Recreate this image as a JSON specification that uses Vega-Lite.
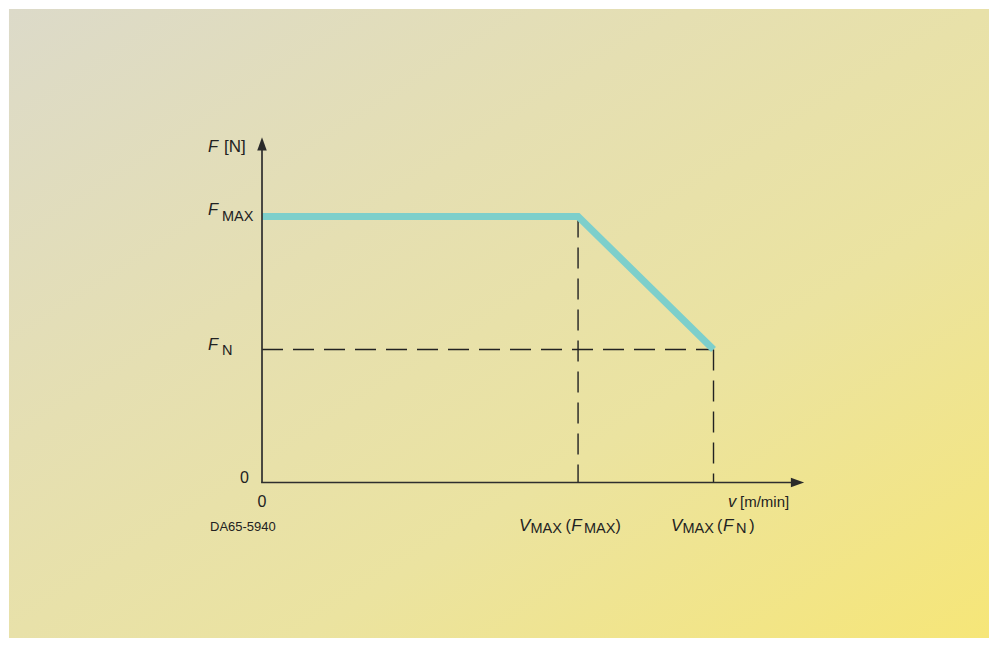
{
  "$schema": "https://vega.github.io/schema/vega-lite/v6.json",
  "width": 998,
  "height": 647,
  "autosize": {"type": "fit", "contains": "padding"},
  "padding": 0,
  "background": "#ffffff",
  "config": {"view": {"stroke": null}},
  "datasets": {
    "segments": [
      {"kind": "axis", "x": -0.02, "y": 0, "x2": 11.9, "y2": 0},
      {"kind": "axis", "x": 0, "y": 0, "x2": 0, "y2": 12.75},
      {"kind": "guide", "x": 0, "y": 5, "x2": 10, "y2": 5},
      {"kind": "guide", "x": 7, "y": 10, "x2": 7, "y2": 0},
      {"kind": "guide", "x": 10, "y": 5, "x2": 10, "y2": 0}
    ],
    "curve": [
      {"order": 1, "v": 0, "F": 10},
      {"order": 2, "v": 7, "F": 10},
      {"order": 3, "v": 10, "F": 5}
    ],
    "arrows": [
      {"dir": "up", "v": 0, "F": 12.73},
      {"dir": "right", "v": 11.86, "F": 0}
    ],
    "labels": [
      {"role": "varL", "t": "F", "x": -1.196, "y": 12.425},
      {"role": "unitL", "t": "[N]", "x": -0.842, "y": 12.425},
      {"role": "varL", "t": "F", "x": -1.196, "y": 10.056},
      {"role": "sub", "t": "MAX", "x": -0.886, "y": 9.831},
      {"role": "varL", "t": "F", "x": -1.196, "y": 4.981},
      {"role": "sub", "t": "N", "x": -0.886, "y": 4.812},
      {"role": "num", "t": "0", "x": -0.487, "y": 0},
      {"role": "num", "t": "0", "x": -0.1, "y": -0.91},
      {"role": "varL", "t": "v", "x": 10.321, "y": -0.91},
      {"role": "unit", "t": "[m/min]", "x": 10.587, "y": -0.91},
      {"role": "varB", "t": "V", "x": 5.692, "y": -1.823},
      {"role": "sub", "t": "MAX", "x": 5.947, "y": -1.91},
      {"role": "num", "t": "(", "x": 6.72, "y": -1.823},
      {"role": "varB", "t": "F", "x": 6.85, "y": -1.823},
      {"role": "sub", "t": "MAX", "x": 7.13, "y": -1.91},
      {"role": "num", "t": ")", "x": 7.83, "y": -1.823},
      {"role": "varB", "t": "V", "x": 9.059, "y": -1.823},
      {"role": "sub", "t": "MAX", "x": 9.313, "y": -1.91},
      {"role": "num", "t": "(", "x": 10.078, "y": -1.823},
      {"role": "varB", "t": "F", "x": 10.21, "y": -1.823},
      {"role": "sub", "t": "N", "x": 10.498, "y": -1.91},
      {"role": "num", "t": ")", "x": 10.79, "y": -1.823},
      {"role": "code", "t": "DA65-5940", "x": -1.152, "y": -1.823}
    ]
  },
  "layer": [
    {
      "data": {"values": [{}]},
      "mark": {
        "type": "rect",
        "color": {
          "gradient": "linear",
          "x1": 0, "y1": 0, "x2": 1, "y2": 1,
          "stops": [
            {"offset": 0, "color": "#dcdac9"},
            {"offset": 0.35, "color": "#e5dfb2"},
            {"offset": 0.65, "color": "#ebe3a0"},
            {"offset": 1, "color": "#f6e678"}
          ]
        }
      },
      "encoding": {
        "x": {"datum": -5.604, "type": "quantitative", "axis": null, "scale": {"domain": [-5.803, 16.301], "nice": false, "zero": false}},
        "x2": {"datum": 16.102},
        "y": {"datum": 17.801, "type": "quantitative", "axis": null, "scale": {"domain": [-6.184, 18.139], "nice": false, "zero": false}},
        "y2": {"datum": -5.846}
      }
    },
    {
      "data": {"name": "segments"},
      "transform": [{"filter": "datum.kind === 'guide'"}],
      "mark": {"type": "rule", "color": "#222222", "strokeWidth": 1.4, "strokeDash": [21, 10]},
      "encoding": {
        "x": {"field": "x", "type": "quantitative", "axis": null, "scale": {"domain": [-5.803, 16.301], "nice": false, "zero": false}},
        "x2": {"field": "x2"},
        "y": {"field": "y", "type": "quantitative", "axis": null, "scale": {"domain": [-6.184, 18.139], "nice": false, "zero": false}},
        "y2": {"field": "y2"}
      }
    },
    {
      "data": {"name": "curve"},
      "mark": {"type": "line", "color": "#7dcfcb", "strokeWidth": 7, "strokeCap": "butt", "strokeJoin": "miter"},
      "encoding": {
        "x": {"field": "v", "type": "quantitative", "axis": null, "scale": {"domain": [-5.803, 16.301], "nice": false, "zero": false}},
        "y": {"field": "F", "type": "quantitative", "axis": null, "scale": {"domain": [-6.184, 18.139], "nice": false, "zero": false}},
        "order": {"field": "order"}
      }
    },
    {
      "data": {"name": "segments"},
      "transform": [{"filter": "datum.kind === 'axis'"}],
      "mark": {"type": "rule", "color": "#2e2e2e", "strokeWidth": 1.7},
      "encoding": {
        "x": {"field": "x", "type": "quantitative", "axis": null, "scale": {"domain": [-5.803, 16.301], "nice": false, "zero": false}},
        "x2": {"field": "x2"},
        "y": {"field": "y", "type": "quantitative", "axis": null, "scale": {"domain": [-6.184, 18.139], "nice": false, "zero": false}},
        "y2": {"field": "y2"}
      }
    },
    {
      "data": {"name": "arrows"},
      "transform": [{"filter": "datum.dir === 'up'"}],
      "mark": {"type": "point", "shape": "M0,-1L0.72,1L-0.72,1Z", "size": 176, "filled": true, "color": "#2a2a2a", "opacity": 1, "angle": 0},
      "encoding": {
        "x": {"field": "v", "type": "quantitative", "axis": null, "scale": {"domain": [-5.803, 16.301], "nice": false, "zero": false}},
        "y": {"field": "F", "type": "quantitative", "axis": null, "scale": {"domain": [-6.184, 18.139], "nice": false, "zero": false}}
      }
    },
    {
      "data": {"name": "arrows"},
      "transform": [{"filter": "datum.dir === 'right'"}],
      "mark": {"type": "point", "shape": "M0,-1L0.72,1L-0.72,1Z", "size": 176, "filled": true, "color": "#2a2a2a", "opacity": 1, "angle": 90},
      "encoding": {
        "x": {"field": "v", "type": "quantitative", "axis": null, "scale": {"domain": [-5.803, 16.301], "nice": false, "zero": false}},
        "y": {"field": "F", "type": "quantitative", "axis": null, "scale": {"domain": [-6.184, 18.139], "nice": false, "zero": false}}
      }
    },
    {
      "data": {"name": "labels"},
      "transform": [{"filter": "datum.role === 'varL'"}],
      "mark": {"type": "text", "align": "left", "baseline": "alphabetic", "font": "Liberation Sans", "fontStyle": "italic", "fontSize": 16.5, "color": "#222222"},
      "encoding": {
        "x": {"field": "x", "type": "quantitative", "axis": null, "scale": {"domain": [-5.803, 16.301], "nice": false, "zero": false}},
        "y": {"field": "y", "type": "quantitative", "axis": null, "scale": {"domain": [-6.184, 18.139], "nice": false, "zero": false}},
        "text": {"field": "t"}
      }
    },
    {
      "data": {"name": "labels"},
      "transform": [{"filter": "datum.role === 'varB'"}],
      "mark": {"type": "text", "align": "left", "baseline": "alphabetic", "font": "Liberation Sans", "fontStyle": "italic", "fontSize": 17, "color": "#222222"},
      "encoding": {
        "x": {"field": "x", "type": "quantitative", "axis": null, "scale": {"domain": [-5.803, 16.301], "nice": false, "zero": false}},
        "y": {"field": "y", "type": "quantitative", "axis": null, "scale": {"domain": [-6.184, 18.139], "nice": false, "zero": false}},
        "text": {"field": "t"}
      }
    },
    {
      "data": {"name": "labels"},
      "transform": [{"filter": "datum.role === 'sub'"}],
      "mark": {"type": "text", "align": "left", "baseline": "alphabetic", "font": "Liberation Sans", "fontSize": 14.5, "color": "#222222"},
      "encoding": {
        "x": {"field": "x", "type": "quantitative", "axis": null, "scale": {"domain": [-5.803, 16.301], "nice": false, "zero": false}},
        "y": {"field": "y", "type": "quantitative", "axis": null, "scale": {"domain": [-6.184, 18.139], "nice": false, "zero": false}},
        "text": {"field": "t"}
      }
    },
    {
      "data": {"name": "labels"},
      "transform": [{"filter": "datum.role === 'num'"}],
      "mark": {"type": "text", "align": "left", "baseline": "alphabetic", "font": "Liberation Sans", "fontSize": 16, "color": "#222222"},
      "encoding": {
        "x": {"field": "x", "type": "quantitative", "axis": null, "scale": {"domain": [-5.803, 16.301], "nice": false, "zero": false}},
        "y": {"field": "y", "type": "quantitative", "axis": null, "scale": {"domain": [-6.184, 18.139], "nice": false, "zero": false}},
        "text": {"field": "t"}
      }
    },
    {
      "data": {"name": "labels"},
      "transform": [{"filter": "datum.role === 'unitL'"}],
      "mark": {"type": "text", "align": "left", "baseline": "alphabetic", "font": "Liberation Sans", "fontSize": 17, "color": "#222222"},
      "encoding": {
        "x": {"field": "x", "type": "quantitative", "axis": null, "scale": {"domain": [-5.803, 16.301], "nice": false, "zero": false}},
        "y": {"field": "y", "type": "quantitative", "axis": null, "scale": {"domain": [-6.184, 18.139], "nice": false, "zero": false}},
        "text": {"field": "t"}
      }
    },
    {
      "data": {"name": "labels"},
      "transform": [{"filter": "datum.role === 'unit'"}],
      "mark": {"type": "text", "align": "left", "baseline": "alphabetic", "font": "Liberation Sans", "fontSize": 15, "color": "#222222"},
      "encoding": {
        "x": {"field": "x", "type": "quantitative", "axis": null, "scale": {"domain": [-5.803, 16.301], "nice": false, "zero": false}},
        "y": {"field": "y", "type": "quantitative", "axis": null, "scale": {"domain": [-6.184, 18.139], "nice": false, "zero": false}},
        "text": {"field": "t"}
      }
    },
    {
      "data": {"name": "labels"},
      "transform": [{"filter": "datum.role === 'code'"}],
      "mark": {"type": "text", "align": "left", "baseline": "alphabetic", "font": "Liberation Sans", "fontSize": 13, "color": "#222222"},
      "encoding": {
        "x": {"field": "x", "type": "quantitative", "axis": null, "scale": {"domain": [-5.803, 16.301], "nice": false, "zero": false}},
        "y": {"field": "y", "type": "quantitative", "axis": null, "scale": {"domain": [-6.184, 18.139], "nice": false, "zero": false}},
        "text": {"field": "t"}
      }
    }
  ]
}
